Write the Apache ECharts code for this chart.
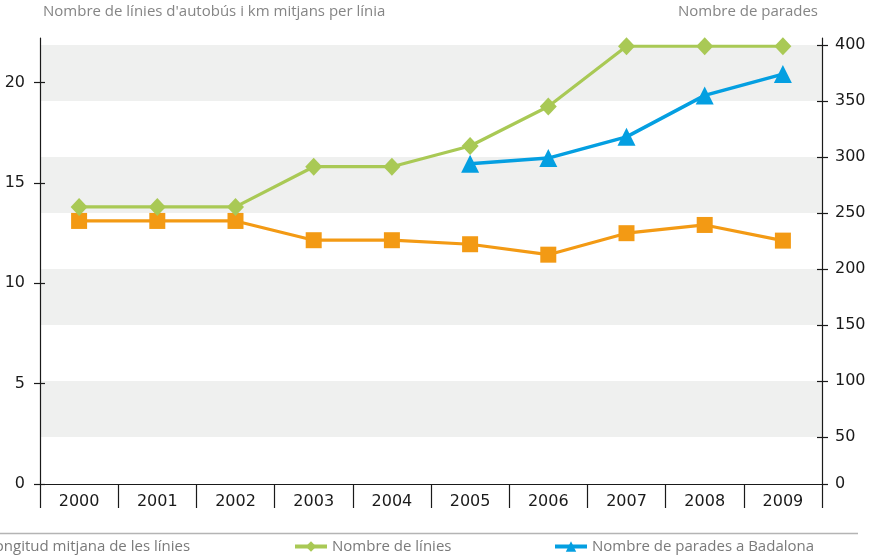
<!DOCTYPE html>
<html>
<head>
<meta charset="utf-8">
<script src="https://cdn.jsdelivr.net/npm/echarts@6/dist/echarts.min.js"></script>
<style>
  html, body { margin: 0; padding: 0; background: #fff; }
  #chart { width: 875px; height: 557px; }
</style>
</head>
<body>
<div id="chart"></div>
<script>
// dades
const years = ['2000', '2001', '2002', '2003', '2004', '2005', '2006', '2007', '2008', '2009']
const longitudMitjana = [13.1, 13.1, 13.1, 12.14, 12.14, 11.94, 11.42, 12.49, 12.9, 12.12]
const nombreLinies = [13.8, 13.8, 13.8, 15.8, 15.8, 16.83, 18.8, 21.8, 21.8, 21.8]
const nombreParades = [null, null, null, null, null, 294, 299, 318, 355, 374]

const leftTicks = [0, 5, 10, 15, 20]
const rightTicks = [8, 50, 100, 150, 200, 250, 300, 350, 400]
const bandRanges = [[50, 100], [150, 200], [250, 300], [350, 400]]

const NAME_ORANGE = 'Longitud mitjana de les línies'
const NAME_GREEN = 'Nombre de línies'
const NAME_BLUE = 'Nombre de parades a Badalona'

const numFont = 'DejaVu Sans'
const textFont = 'Open Sans'

const chart = echarts.init(document.getElementById('chart'))

const tickLine = { color: '#1a1a1a', width: 1.2 }
const hiddenLine = { show: true, lineStyle: { color: 'rgba(0,0,0,0)', width: 1 } }

const legendBase = {
  top: 539, padding: 0,
  itemWidth: 32, itemHeight: 13,
  lineStyle: { width: 4 },
  textStyle: { fontFamily: textFont, fontSize: 15, color: '#7a7a7a' }
}

const option = {
  animation: false,
  title: [
    {
      text: "Nombre de línies d'autobús i km mitjans per línia",
      left: 43, top: 4, padding: 0,
      textStyle: { fontFamily: textFont, fontSize: 15, fontWeight: 'normal', color: '#858585' }
    },
    {
      text: 'Nombre de parades',
      right: 57, top: 4, padding: 0,
      textStyle: { fontFamily: textFont, fontSize: 15, fontWeight: 'normal', color: '#858585' }
    }
  ],
  grid: { left: 40, right: 53, top: 38, bottom: 73 },
  legend: [
    { ...legendBase, data: [NAME_ORANGE], left: -52 },
    { ...legendBase, data: [NAME_GREEN], left: 293 },
    { ...legendBase, data: [NAME_BLUE], left: 553 }
  ],
  graphic: [
    {
      type: 'line', silent: true,
      shape: { x1: 0, y1: 533.5, x2: 858, y2: 533.5 },
      style: { stroke: '#b4b4b4', lineWidth: 1.5 }
    }
  ],
  xAxis: {
    type: 'category',
    data: years,
    boundaryGap: true,
    z: 3,
    axisLine: { show: true, lineStyle: tickLine },
    axisTick: { show: true, interval: 0, length: 24, lineStyle: tickLine },
    axisLabel: { interval: 0, margin: 10, fontFamily: numFont, fontSize: 16, color: '#1a1a1a' }
  },
  yAxis: [
    {
      type: 'value',
      position: 'left',
      z: 3,
      min: 0, max: 22.21,
      splitLine: { show: false },
      axisLine: { show: true, lineStyle: tickLine },
      axisTick: { show: true, length: 6, customValues: leftTicks, lineStyle: tickLine },
      axisLabel: { customValues: leftTicks, margin: 15, fontFamily: numFont, fontSize: 16, color: '#1a1a1a' }
    },
    {
      type: 'value',
      position: 'right',
      z: 3,
      min: 8, max: 406.25,
      splitLine: { show: false },
      axisLine: { show: true, lineStyle: tickLine },
      axisTick: { show: true, length: 6, customValues: rightTicks, lineStyle: tickLine },
      axisLabel: {
        customValues: rightTicks, margin: 13, fontFamily: numFont, fontSize: 16, color: '#1a1a1a',
        formatter: v => (v === rightTicks[0] ? '0' : String(v))
      }
    },
    {
      type: 'value',
      position: 'left',
      z: 3,
      min: 0, max: 22.21,
      splitLine: { show: false },
      axisLine: hiddenLine,
      axisTick: { show: true, inside: true, length: 5, customValues: leftTicks, lineStyle: tickLine },
      axisLabel: { show: false }
    },
    {
      type: 'value',
      position: 'right',
      z: 3,
      min: 8, max: 406.25,
      splitLine: { show: false },
      axisLine: hiddenLine,
      axisTick: { show: true, inside: true, length: 5, customValues: rightTicks.slice(1), lineStyle: tickLine },
      axisLabel: { show: false }
    }
  ],
  series: [
    {
      name: NAME_ORANGE,
      type: 'line',
      yAxisIndex: 0,
      data: longitudMitjana,
      color: '#F39A14',
      lineStyle: { width: 3.2 },
      symbol: 'rect',
      symbolSize: 16,
      itemStyle: { color: '#F39A14' }
    },
    {
      name: NAME_GREEN,
      type: 'line',
      yAxisIndex: 0,
      data: nombreLinies,
      color: '#A9C955',
      lineStyle: { width: 3.2 },
      symbol: 'diamond',
      symbolSize: [17, 18],
      itemStyle: { color: '#A9C955' }
    },
    {
      name: NAME_BLUE,
      type: 'line',
      yAxisIndex: 1,
      data: nombreParades,
      color: '#049FE1',
      lineStyle: { width: 3.5 },
      symbol: 'triangle',
      symbolSize: 18,
      itemStyle: { color: '#049FE1' },
      markArea: {
        silent: true,
        itemStyle: { color: '#eff0ef' },
        data: bandRanges.map(r => [{ yAxis: r[0] }, { yAxis: r[1] }])
      }
    },
    // còpies invisibles perquè els eixos de marques interiors tinguin escala
    { type: 'line', yAxisIndex: 2, data: longitudMitjana, silent: true, showSymbol: false, lineStyle: { opacity: 0 }, tooltip: { show: false } },
    { type: 'line', yAxisIndex: 3, data: nombreParades, silent: true, showSymbol: false, lineStyle: { opacity: 0 }, tooltip: { show: false } }
  ]
}

chart.setOption(option)
</script>
</body>
</html>
